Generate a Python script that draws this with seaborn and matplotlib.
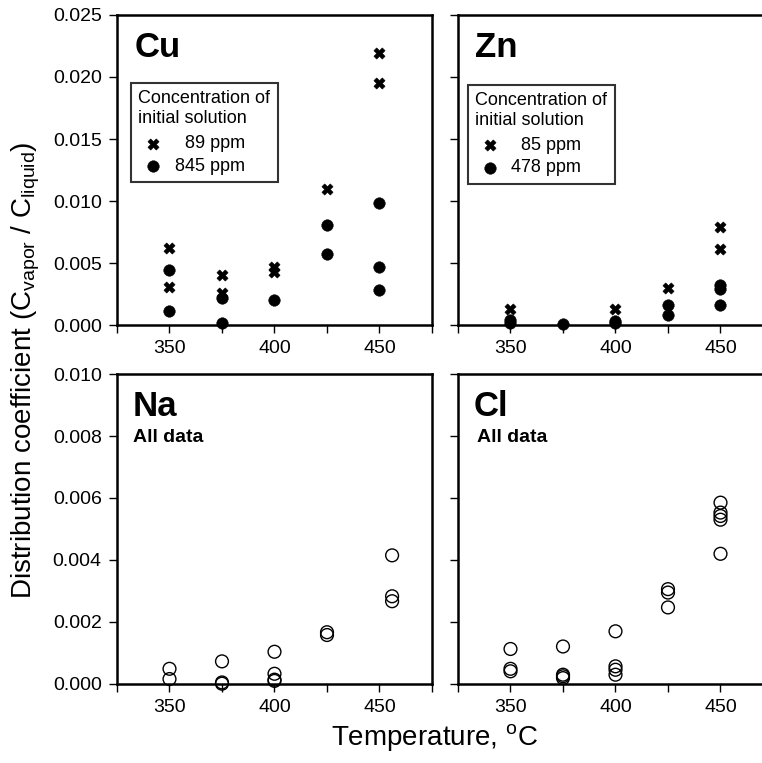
import numpy as np
import pandas as pd
import matplotlib
matplotlib.use("Agg")
import matplotlib.pyplot as plt
import seaborn as sns

# Cu data (temperature, distribution coefficient)
cu_lo_t = [350, 350, 375, 375, 400, 400, 425, 450, 450]
cu_lo_d = [0.0062, 0.0031, 0.0040, 0.0026, 0.0047, 0.0043, 0.0110, 0.0219, 0.0195]
cu_hi_t = [350, 350, 375, 375, 400, 425, 425, 450, 450, 450]
cu_hi_d = [0.0044, 0.0011, 0.0022, 0.0002, 0.0020, 0.0081, 0.0057, 0.0098, 0.0047, 0.0028]

# Zn data
zn_lo_t = [350, 400, 425, 450, 450]
zn_lo_d = [0.0013, 0.0013, 0.0030, 0.0079, 0.0061]
zn_hi_t = [350, 350, 375, 400, 400, 425, 425, 450, 450, 450]
zn_hi_d = [0.0004, 0.0002, 0.0001, 0.0003, 0.0002, 0.0016, 0.0008, 0.0032, 0.0029, 0.0016]

# Na data (all)
na_t = [350, 350, 375, 375, 375, 400, 400, 400, 400, 425, 425, 456, 456, 456]
na_d = [0.00049, 0.00016, 0.00073, 0.00005, 0.00001, 0.00104, 0.00033, 0.00014,
        0.00010, 0.00167, 0.00158, 0.00415, 0.00283, 0.00267]

# Cl data (all)
cl_t = [350, 350, 350, 375, 375, 375, 375, 400, 400, 400, 400,
        425, 425, 425, 450, 450, 450, 450, 450]
cl_d = [0.00113, 0.00049, 0.00041, 0.00121, 0.00030, 0.00025, 0.00019,
        0.00170, 0.00057, 0.00046, 0.00030, 0.00306, 0.00295, 0.00247,
        0.00585, 0.00553, 0.00542, 0.00530, 0.00420]

cu_labels = ["  89 ppm", "845 ppm"]
zn_labels = ["  85 ppm", "478 ppm"]

sns.set_style("ticks")
plt.rcParams['font.family'] = ['Liberation Sans', 'DejaVu Sans']
plt.rcParams['mathtext.fontset'] = 'custom'
plt.rcParams['mathtext.rm'] = 'Liberation Sans'
plt.rcParams['text.color'] = 'black'
plt.rcParams['axes.labelcolor'] = 'black'
plt.rcParams['xtick.color'] = 'black'
plt.rcParams['ytick.color'] = 'black'

W, H = 762, 763
fig = plt.figure(figsize=(W / 100, H / 100), dpi=100)


def make_ax(x0, y_top, y_bot):
    width = 315
    return fig.add_axes([x0 / W, 1 - y_bot / H, width / W, (y_bot - y_top) / H])


ax_cu = make_ax(117, 15, 325)
ax_zn = make_ax(458, 15, 325)
ax_na = make_ax(117, 374, 684)
ax_cl = make_ax(458, 374, 684)


def style_ax(ax, ymax, ystep, show_ylabels):
    ax.set_xlim(325, 475)
    ax.set_ylim(0, ymax)
    ax.set_xticks([350, 400, 450])
    ax.set_xticks([325, 375, 425, 475], minor=True)
    ax.set_yticks(np.arange(0, ymax + ystep / 2, ystep))
    ax.tick_params(which='both', direction='out', length=6, width=1, colors='black',
                   labelsize=14, pad=5)
    ax.yaxis.set_major_formatter(matplotlib.ticker.FormatStrFormatter('%.3f'))
    if not show_ylabels:
        ax.set_yticklabels([])
    for s in ax.spines.values():
        s.set_visible(True)
        s.set_linewidth(1.8)
        s.set_color('black')
    ax.set_xlabel('')
    ax.set_ylabel('')


def two_series(ax, t_lo, d_lo, t_hi, d_hi, labels, name, anchor):
    lo = pd.DataFrame({'T': t_lo, 'D': d_lo})
    hi = pd.DataFrame({'T': t_hi, 'D': d_hi})
    sns.scatterplot(data=lo, x='T', y='D', marker='X', s=65, color='black',
                    edgecolor='black', linewidth=0.4, ax=ax, clip_on=False,
                    zorder=3, label=labels[0])
    sns.scatterplot(data=hi, x='T', y='D', marker='o', s=70, color='black',
                    edgecolor='black', linewidth=0.3, ax=ax, clip_on=False,
                    zorder=3, label=labels[1])
    leg = ax.legend(title='Concentration of\ninitial solution',
                    loc='upper left', bbox_to_anchor=anchor,
                    fontsize=13, title_fontsize=13, fancybox=False,
                    frameon=True, edgecolor='black', borderaxespad=0,
                    handlelength=1.6, handletextpad=0.4, labelspacing=0.3,
                    borderpad=0.4, alignment='left')
    leg.get_frame().set_linewidth(1.5)
    leg._legend_box.sep = 6
    ax.text(0.055, 0.895, name, transform=ax.transAxes, fontsize=25,
            fontweight='bold', va='center', ha='left')


def open_series(ax, t, d, name, sub_x):
    df = pd.DataFrame({'T': t, 'D': d})
    sns.scatterplot(data=df, x='T', y='D', marker='o', s=85, facecolor='none',
                    edgecolor='black', linewidth=1.0, ax=ax, clip_on=False, zorder=3)
    ax.text(0.05, 0.895, name, transform=ax.transAxes, fontsize=25,
            fontweight='bold', va='center', ha='left')
    ax.text(sub_x, 0.795, 'All data', transform=ax.transAxes, fontsize=14,
            fontweight='bold', va='center', ha='left')


two_series(ax_cu, cu_lo_t, cu_lo_d, cu_hi_t, cu_hi_d, cu_labels, 'Cu', (0.045, 0.78))
two_series(ax_zn, zn_lo_t, zn_lo_d, zn_hi_t, zn_hi_d, zn_labels, 'Zn', (0.032, 0.775))
open_series(ax_na, na_t, na_d, 'Na', 0.05)
open_series(ax_cl, cl_t, cl_d, 'Cl', 0.06)

style_ax(ax_cu, 0.025, 0.005, True)
style_ax(ax_zn, 0.025, 0.005, False)
style_ax(ax_na, 0.010, 0.002, True)
style_ax(ax_cl, 0.010, 0.002, False)

fig.text(26 / W, 1 - 370 / H,
         r'Distribution coefficient (C$_{\mathregular{vapor}}$ / C$_{\mathregular{liquid}}$)',
         rotation=90, ha='center', va='center', fontsize=20)
fig.text(435 / W, 1 - 738 / H, r'Temperature, $^{\mathregular{o}}$C',
         ha='center', va='center', fontsize=20)

fig.savefig('out.png', dpi=100)
